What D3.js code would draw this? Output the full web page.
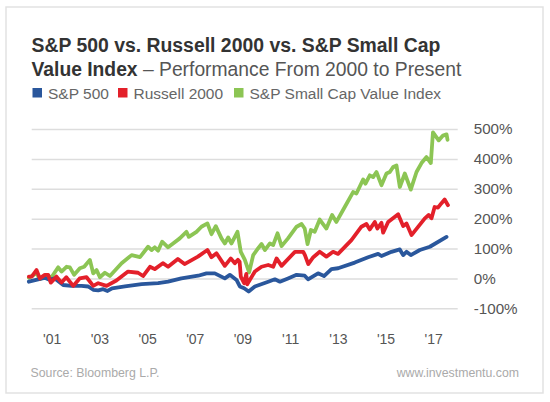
<!DOCTYPE html>
<html>
<head>
<meta charset="utf-8">
<script src="https://cdn.jsdelivr.net/npm/d3@7"></script>
<style>
  html, body { margin: 0; padding: 0; background: #fff; }
  svg { display: block; font-family: "Liberation Sans", Arial, Helvetica, sans-serif; }
</style>
</head>
<body>
<svg id="chart" width="550" height="402"></svg>
<script>
// ---- data (decimal year, % performance) ----
const sp500 = [
  [2000.04,-11],[2000.43,-3],[2000.7,2],[2000.9,-4],[2001.13,0],[2001.48,-22],[2001.83,-25],
  [2002.25,-25],[2002.53,-27],[2002.74,-38],[2002.95,-40],[2003.16,-36],[2003.34,-42],[2003.53,-33],
  [2004.07,-27],[2004.77,-19],[2005.46,-16],[2005.88,-11],[2006.44,0],[2007.14,9],[2007.49,17],
  [2007.84,17],[2008.26,0],[2008.47,12],[2008.75,-5],[2008.89,-27],[2009.07,-33],[2009.26,-44],
  [2009.52,-27],[2010.08,-11],[2010.36,-3],[2010.57,-11],[2010.91,0],[2011.27,12],[2011.61,9],
  [2011.75,-3],[2012.17,17],[2012.42,8],[2012.73,31],[2013.01,34],[2013.71,53],[2014.27,71],
  [2014.69,82],[2014.83,75],[2015.25,89],[2015.6,97],[2015.74,78],[2015.88,89],[2016.06,78],
  [2016.44,95],[2016.86,106],[2017.56,139]
];
const russell2000 = [
  [2000.04,6],[2000.16,6],[2000.36,28],[2000.5,0],[2000.71,12],[2000.85,12],[2000.96,-14],
  [2001.2,6],[2001.41,-14],[2001.61,4],[2001.9,-25],[2002.17,0],[2002.46,4],[2002.74,-25],
  [2002.95,-16],[2003.3,-25],[2003.71,-7],[2004.2,23],[2004.62,19],[2004.83,8],[2005.12,39],
  [2005.32,31],[2005.66,51],[2005.88,39],[2006.29,65],[2006.57,48],[2007.13,73],[2007.53,95],
  [2007.7,71],[2007.91,84],[2008.26,42],[2008.51,67],[2008.68,51],[2008.81,62],[2008.88,56],
  [2008.93,6],[2009.07,-16],[2009.16,15],[2009.2,-20],[2009.52,23],[2009.8,39],[2010.08,45],
  [2010.29,39],[2010.43,67],[2010.64,42],[2011.2,89],[2011.55,89],[2011.62,78],[2011.76,48],
  [2011.97,71],[2012.24,89],[2012.52,73],[2012.8,89],[2013.01,82],[2013.57,128],[2013.99,173],
  [2014.2,182],[2014.34,164],[2014.55,189],[2014.66,167],[2014.83,186],[2014.9,153],[2015.11,189],
  [2015.53,215],[2015.74,175],[2015.88,184],[2016.09,145],[2016.65,201],[2016.81,212],[2016.93,201],
  [2017.06,239],[2017.2,237],[2017.34,251],[2017.48,264],[2017.62,245]
];
const smallCapValue = [
  [2000.04,2],[2000.36,18],[2000.5,-2],[2000.71,8],[2000.85,8],[2000.99,4],[2001.27,37],
  [2001.41,23],[2001.62,39],[2001.76,37],[2001.94,12],[2002.18,34],[2002.36,39],[2002.6,62],
  [2002.74,17],[2002.88,28],[2003.02,4],[2003.23,19],[2003.44,8],[2003.93,51],[2004.35,78],
  [2004.7,71],[2005.04,106],[2005.19,95],[2005.32,104],[2005.46,93],[2005.63,123],[2005.88,104],
  [2006.09,117],[2006.37,134],[2006.65,156],[2006.75,139],[2007.07,156],[2007.28,173],[2007.53,184],
  [2007.7,148],[2007.88,175],[2008.12,134],[2008.26,117],[2008.4,137],[2008.54,117],[2008.79,156],
  [2008.93,89],[2009.1,62],[2009.28,20],[2009.45,78],[2009.66,101],[2009.8,115],[2009.94,95],
  [2010.15,117],[2010.29,112],[2010.47,151],[2010.64,108],[2010.91,134],[2011.27,173],[2011.48,182],
  [2011.61,167],[2011.73,115],[2011.87,162],[2012.03,156],[2012.24,197],[2012.52,167],[2012.76,212],
  [2012.94,189],[2013.29,239],[2013.64,289],[2013.78,284],[2014.06,331],[2014.16,317],[2014.34,345],
  [2014.48,339],[2014.62,356],[2014.83,312],[2015.04,351],[2015.18,356],[2015.32,373],[2015.46,378],
  [2015.6,306],[2015.81,351],[2016.06,297],[2016.3,356],[2016.51,386],[2016.72,406],[2016.9,386],
  [2016.99,489],[2017.23,462],[2017.41,478],[2017.56,482],[2017.6,464]
];
const seriesNames = ["S&P 500", "Russell 2000", "S&P Small Cap Value Index"];
const seriesColors = ["#2a579c", "#e3202a", "#8cc554"];
const xTickYears = [2001, 2003, 2005, 2007, 2009, 2011, 2013, 2015, 2017];
const yTickValues = [-100, 0, 100, 200, 300, 400, 500];

// ---- layout ----
const svg = d3.select("#chart");
const gridLeft = 31.7, gridRight = 457.7;
const x = d3.scaleLinear().domain([2000, 2017]).range([27.9, 433.2]);
const y = d3.scaleLinear().domain([-100, 500]).range([308.3, 129]);

// card border
svg.append("rect").attr("x", 6).attr("y", 7).attr("width", 537).attr("height", 386)
  .attr("fill", "#fff").attr("stroke", "#e2e2e2").attr("stroke-width", 1.5);

// title
const t1 = svg.append("text").attr("x", 31.5).attr("y", 52)
  .attr("font-size", 19.4).attr("font-weight", "bold").attr("fill", "#333");
t1.text("S&P 500 vs. Russell 2000 vs. S&P Small Cap");
const t2 = svg.append("text").attr("x", 31.5).attr("y", 76).attr("font-size", 19.3);
t2.append("tspan").attr("font-weight", "bold").attr("fill", "#333").text("Value Index");
t2.append("tspan").attr("fill", "#555").text(" \u2013 Performance From 2000 to Present");

// legend
const legendX = [32.5, 118, 234];
seriesNames.forEach((name, i) => {
  svg.append("rect").attr("x", legendX[i]).attr("y", 88).attr("width", 9.5).attr("height", 9.5)
    .attr("fill", seriesColors[i]);
  svg.append("text").attr("x", legendX[i] + 15.5).attr("y", 98.7)
    .attr("font-size", 15.5).attr("fill", "#666").text(name);
});

// gridlines
const grid = svg.append("g").attr("transform", `translate(${gridLeft},0)`)
  .call(d3.axisLeft(y).tickValues(yTickValues).tickSize(-(gridRight - gridLeft)).tickFormat(""));
grid.select(".domain").remove();
grid.selectAll("line").attr("stroke", "#dddddd").attr("stroke-width", 1.5);

// y labels
const yAx = svg.append("g").attr("transform", `translate(${gridRight},0)`)
  .call(d3.axisRight(y).tickValues(yTickValues).tickSize(0).tickPadding(16)
    .tickFormat(d => d + "%"));
yAx.select(".domain").remove();
yAx.selectAll("text").attr("font-size", 15.2).attr("fill", "#555")
  .attr("font-family", "Liberation Sans, Arial, sans-serif");

// x labels
const xAx = svg.append("g").attr("transform", "translate(0,344)")
  .call(d3.axisBottom(x).tickValues(xTickYears).tickSize(0)
    .tickFormat(d => "'" + String(d).slice(2)));
xAx.select(".domain").remove();
xAx.selectAll("text").attr("y", 0).attr("dy", null).attr("font-size", 14).attr("fill", "#555")
  .attr("font-family", "Liberation Sans, Arial, sans-serif");

// lines
const line = d3.line().x(d => x(d[0])).y(d => y(d[1]));
const drawOrder = [[smallCapValue, 2], [sp500, 0], [russell2000, 1]];
drawOrder.forEach(([data, ci]) => {
  svg.append("path").datum(data).attr("d", line).attr("fill", "none")
    .attr("stroke", seriesColors[ci]).attr("stroke-width", 3.8)
    .attr("stroke-linejoin", "round").attr("stroke-linecap", "round");
});

// footer
svg.append("text").attr("x", 30.5).attr("y", 376.5).attr("font-size", 12.3)
  .attr("fill", "#aaa").text("Source: Bloomberg L.P.");
svg.append("text").attr("x", 519).attr("y", 376.5).attr("font-size", 12.3)
  .attr("text-anchor", "end").attr("fill", "#aaa").text("www.investmentu.com");
</script>
</body>
</html>
